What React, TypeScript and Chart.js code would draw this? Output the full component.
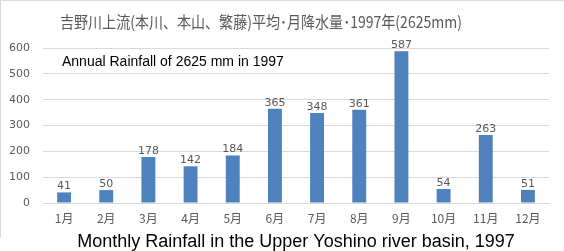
import React, { useEffect, useRef } from "react";
import { Chart, registerables } from "chart.js";

Chart.register(...registerables);

const categories = ["1月", "2月", "3月", "4月", "5月", "6月", "7月", "8月", "9月", "10月", "11月", "12月"];
const rainfall = [41, 50, 178, 142, 184, 365, 348, 361, 587, 54, 263, 51];
const yTicks = [0, 100, 200, 300, 400, 500, 600];
const titleText = "吉野川上流(本川、本山、繁藤)平均･月降水量･1997年(2625mm)";
const noteText = "Annual Rainfall of 2625 mm in 1997";
const bottomText = "Monthly Rainfall in the Upper Yoshino river basin, 1997";

const textPlugin = {
  id: "texts",
  afterDatasetsDraw(chart: any) {
    const ctx = chart.ctx;
    ctx.save();
    // data labels
    const meta = chart.getDatasetMeta(0);
    ctx.fillStyle = "#595959";
    ctx.font = "11px 'DejaVu Sans'";
    ctx.textAlign = "center";
    ctx.textBaseline = "alphabetic";
    meta.data.forEach((bar: any, i: number) => {
      ctx.fillText(String(rainfall[i]), bar.x, bar.y - 3);
    });
    // title
    ctx.fillStyle = "#595959";
    ctx.font = "16px 'Noto Sans CJK JP'";
    ctx.textBaseline = "middle";
    ctx.textAlign = "center";
    ctx.fillText(titleText, 261, 22, 402);
    // note
    ctx.fillStyle = "#000000";
    ctx.font = "14px 'Liberation Sans'";
    ctx.textAlign = "left";
    ctx.fillText(noteText, 62, 62);
    // bottom
    ctx.font = "18px 'Liberation Sans'";
    ctx.textAlign = "center";
    ctx.fillText(bottomText, 296, 242);
    ctx.restore();
  },
};

export default function App() {
  const ref = useRef<HTMLCanvasElement>(null);
  useEffect(() => {
    document.body.style.margin = "0";
    const chart = new Chart(ref.current!, {
      type: "bar",
      data: {
        labels: categories,
        datasets: [
          {
            data: rainfall,
            backgroundColor: "#4f81bd",
            categoryPercentage: 1,
            barPercentage: 0.33,
          },
        ],
      },
      options: {
        animation: false,
        responsive: false,
        layout: { padding: { top: 48, right: 15, left: 0, bottom: 0 } },
        plugins: { legend: { display: false }, tooltip: { enabled: false } },
        scales: {
          x: {
            grid: { display: false, drawTicks: false },
            border: { color: "#d9d9d9", width: 1 },
            ticks: { color: "#595959", font: { size: 12, family: "'Noto Sans CJK JP'" }, padding: 8 },
            afterFit: (s: any) => {
              s.height = 48;
            },
          },
          y: {
            min: 0,
            max: 600,
            afterBuildTicks: (s: any) => {
              s.ticks = yTicks.map((v) => ({ value: v }));
            },
            grid: { color: "#d9d9d9", lineWidth: 1, drawTicks: false },
            border: { display: false },
            ticks: { color: "#595959", font: { size: 11, family: "'DejaVu Sans'" }, padding: 13 },
            afterFit: (s: any) => {
              s.width = 43;
            },
          },
        },
      },
      plugins: [textPlugin],
    });
    return () => chart.destroy();
  }, []);
  return (
    <div style={{ position: "relative", width: 564, height: 251 }}>
      <canvas ref={ref} width={564} height={251} style={{ display: "block" }} />
      <div
        style={{
          position: "absolute",
          left: 0,
          top: 0,
          width: 563,
          height: 237,
          borderLeft: "1px solid #d9d9d9",
          borderTop: "1px solid #d9d9d9",
          pointerEvents: "none",
        }}
      />
    </div>
  );
}
